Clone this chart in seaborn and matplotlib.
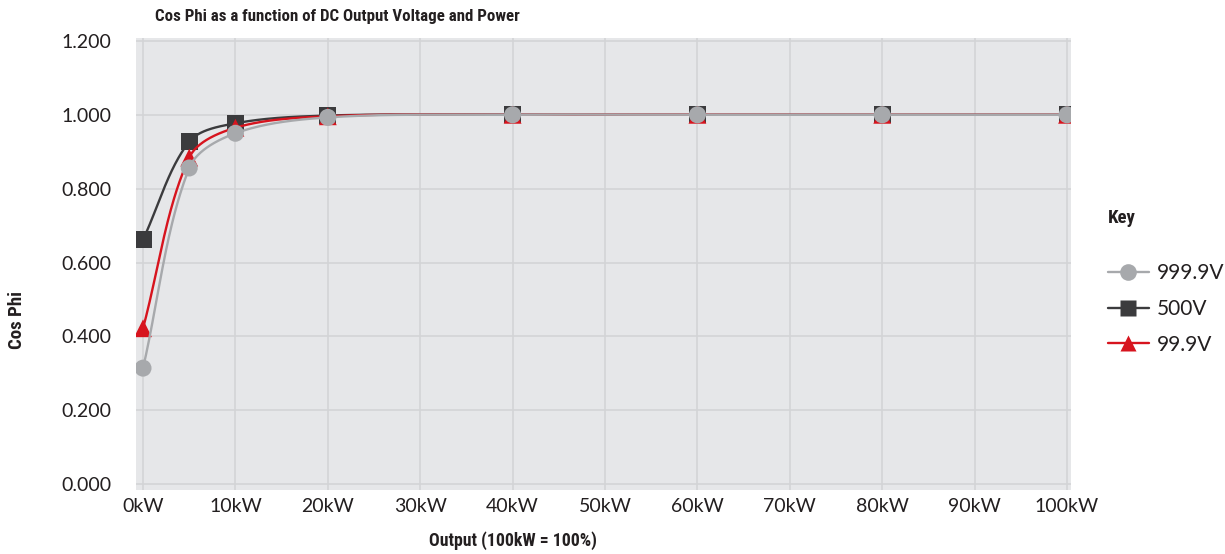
import numpy as np
import pandas as pd
import matplotlib
matplotlib.use("Agg")
import matplotlib.pyplot as plt
import seaborn as sns
from matplotlib import font_manager
from matplotlib.font_manager import FontProperties
from matplotlib.lines import Line2D

# ---- data ----
power_kw = [0, 5, 10, 20, 40, 60, 80, 100]
v999 = [0.314, 0.856, 0.950, 0.993, 1.000, 1.000, 1.000, 1.000]
v500 = [0.662, 0.927, 0.977, 0.998, 1.000, 1.000, 1.000, 1.000]
v99 = [0.422, 0.884, 0.965, 0.996, 1.000, 1.000, 1.000, 1.000]
series_names = ["999.9V", "500V", "99.9V"]
x_ticks = [0, 10, 20, 30, 40, 50, 60, 70, 80, 90, 100]
x_tick_labels = [f"{t}kW" for t in x_ticks]
y_ticks = [0.0, 0.2, 0.4, 0.6, 0.8, 1.0, 1.2]
y_tick_labels = [f"{t:.3f}" for t in y_ticks]

colors = {"999.9V": "#A7A9AC", "500V": "#3B3B3D", "99.9V": "#D7141E"}
markers = {"999.9V": "o", "500V": "s", "99.9V": "^"}
zorders = {"999.9V": 5, "500V": 3, "99.9V": 4}

sns.set_theme(style="white")
tl = font_manager.fontManager.ttflist
avail = {f.name for f in tl}
tickfont = "Lato" if "Lato" in avail else "DejaVu Sans"
plt.rcParams["font.family"] = [tickfont, "DejaVu Sans"]


def pick_condensed():
    def is_bold(f):
        w = f.weight
        if isinstance(w, str):
            return w in ("bold", "semibold", "demibold", "heavy", "black")
        return w >= 600
    cands = []
    for f in tl:
        fn = f.fname.lower()
        cond = ("condensed" in fn or "narrow" in fn or "compressed" in fn
                or f.stretch in ("condensed", "semi-condensed", "extra-condensed", "ultra-condensed"))
        if cond and is_bold(f) and "italic" not in fn and "oblique" not in fn and f.style == "normal":
            cands.append(f)
    order = ["Roboto Condensed", "Open Sans Condensed", "Liberation Sans Narrow",
             "Noto Sans", "DejaVu Sans"]
    def key(f):
        for i, n in enumerate(order):
            if f.name.startswith(n):
                return i
        return len(order)
    if cands:
        cands.sort(key=key)
        return FontProperties(fname=cands[0].fname)
    return FontProperties(family="DejaVu Sans", weight="bold")


condfp = pick_condensed()

fig = plt.figure(figsize=(12.25, 5.54), dpi=100)
W, H = 1225, 554
left, right, top, bottom = 136, 1071, 38, 490
ax = fig.add_axes([left / W, 1 - bottom / H, (right - left) / W, (bottom - top) / H])
ax.set_facecolor("#E6E7E9")

xlim = (-0.76, 100.43)
ylim = (-0.016, 1.208)
ax.set_xlim(*xlim)
ax.set_ylim(*ylim)

sx = (right - left) / (xlim[1] - xlim[0])
sy = (bottom - top) / (ylim[1] - ylim[0])


def smooth(xs, ys, n=60):
    P = np.column_stack([np.array(xs) * sx, np.array(ys) * sy])
    out = [P[0]]
    m = len(P)
    for i in range(m - 1):
        p0 = P[i - 1] if i > 0 else P[i]
        p1 = P[i]
        p2 = P[i + 1]
        p3 = P[i + 2] if i + 2 < m else P[i + 1]
        d12 = np.linalg.norm(p2 - p1)
        d01 = np.linalg.norm(p1 - p0)
        d23 = np.linalg.norm(p3 - p2)
        t1 = p2 - p0
        t2 = p3 - p1
        c1 = p1 + t1 * (d12 / (3 * (d01 + d12))) if d01 > 0 else p1 + (p2 - p1) / 3
        c2 = p2 - t2 * (d12 / (3 * (d12 + d23))) if d23 > 0 else p2 - (p2 - p1) / 3
        t = np.linspace(0, 1, n)[1:, None]
        pts = ((1 - t) ** 3) * p1 + 3 * ((1 - t) ** 2) * t * c1 + 3 * (1 - t) * t ** 2 * c2 + t ** 3 * p2
        out.extend(pts)
    out = np.array(out)
    return out[:, 0] / sx, out[:, 1] / sy


data = {"999.9V": v999, "500V": v500, "99.9V": v99}
rows = []
for name in series_names:
    for xv, yv in zip(power_kw, data[name]):
        rows.append({"power": xv, "cosphi": yv, "series": name})
df = pd.DataFrame(rows)

for name in series_names:
    sub = df[df.series == name]
    xs, ys = smooth(sub.power.values, sub.cosphi.values)
    ax.plot(xs, ys, color=colors[name], lw=1.7, zorder=zorders[name], solid_capstyle="round")
    sns.scatterplot(data=sub, x="power", y="cosphi", ax=ax, color=colors[name],
                    marker=markers[name], s=150 if name != "99.9V" else 165,
                    edgecolor="none", zorder=zorders[name] + 0.5, legend=False)

ax.set_xticks(x_ticks)
ax.set_xticklabels(x_tick_labels)
ax.set_yticks(y_ticks)
ax.set_yticklabels(y_tick_labels)
ax.grid(True, color="#D3D4D6", lw=1.2)
ax.set_axisbelow(True)
for s in ax.spines.values():
    s.set_visible(False)
ax.tick_params(axis="both", length=0, labelsize=14, colors="#231F20")
ax.tick_params(axis="x", pad=6)
ax.tick_params(axis="y", pad=18)
ax.set_xlabel("")
ax.set_ylabel("")

renderer = fig.canvas.get_renderer()


def fitted_text(x, y, s, target_px, base=12.5, rotation=0, **kw):
    fp = condfp.copy()
    fp.set_size(base)
    t = fig.text(x / W, 1 - y / H, s, fontproperties=fp, rotation=rotation,
                 color="#231F20", **kw)
    bb = t.get_window_extent(renderer)
    cur = bb.height if rotation == 90 else bb.width
    size = max(9.5, min(15, base * target_px / cur))
    fp.set_size(size)
    t.set_fontproperties(fp)
    return t


fitted_text(155, 17, "Cos Phi as a function of DC Output Voltage and Power", 365,
            ha="left", va="center")
fitted_text(17, 320, "Cos Phi", 58, rotation=90, ha="center", va="center")
fitted_text(513, 541, "Output (100kW = 100%)", 168, ha="center", va="center")

handles = [Line2D([0], [0], color=colors[n], lw=1.7, marker=markers[n], markersize=12,
                  markeredgecolor="none") for n in series_names]
leg = fig.legend(handles, series_names, loc="upper left",
                 bbox_to_anchor=(1108 / W, 1 - 209 / H), frameon=False,
                 fontsize=15, handlelength=1.95, labelspacing=0.76, handletextpad=0.4,
                 borderpad=0, borderaxespad=0, title="Key", alignment="left")
for txt in leg.get_texts():
    txt.set_color("#231F20")
tfp = condfp.copy()
tfp.set_size(13.5)
leg.get_title().set_fontproperties(tfp)
leg.get_title().set_color("#231F20")
leg._legend_box.sep = 26

fig.savefig("out.png", dpi=100, facecolor="white")
